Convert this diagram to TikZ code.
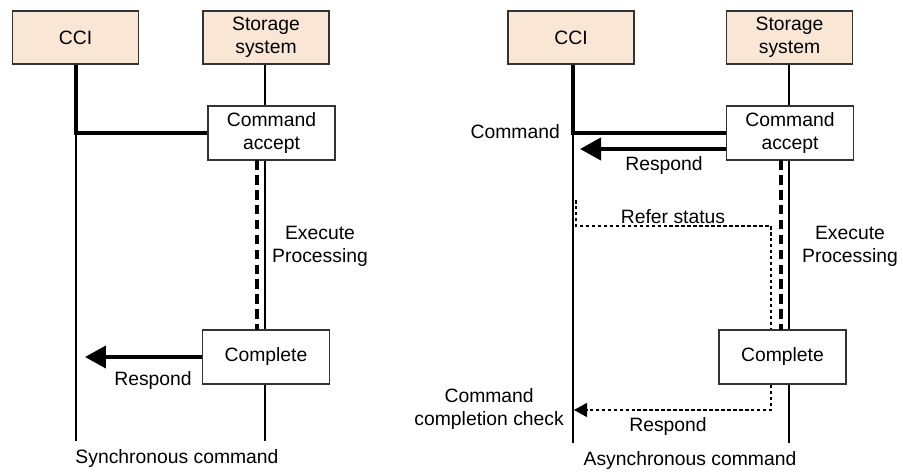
\documentclass[tikz,border=0pt]{standalone}
\usepackage{fontspec}
\setmainfont{Liberation Sans}
\usetikzlibrary{arrows.meta}
\definecolor{peach}{HTML}{FAE6D4}
\definecolor{boxline}{HTML}{333333}
\begin{document}
\begin{tikzpicture}[x=0.02cm, y=-0.02cm,
  font=\fontsize{11pt}{13pt}\selectfont,
  actor/.style={draw=boxline, line width=0.8pt, fill=peach, minimum width=2.52cm, minimum height=1.06cm, align=center, inner sep=1pt},
  stepbox/.style={draw=boxline, line width=0.8pt, fill=white, minimum width=2.54cm, minimum height=1.08cm, align=center, inner sep=1pt},
  lifeline/.style={line width=0.8pt},
  thickline/.style={line width=2.3pt},
  execline/.style={line width=2.6pt, dash pattern=on 5.5pt off 3pt},
  checkline/.style={line width=0.6pt, dash pattern=on 2pt off 1.4pt}]
  \useasboundingbox (0,0) rectangle (903,472);

  % synchronous
  \coordinate (cciend1) at (76,441);
  \coordinate (stoend1) at (265,441);
  \draw[lifeline] (76,64) -- (cciend1);
  \draw[lifeline] (265,64) -- (stoend1);
  \node[actor] (cci1) at (75.5,37.5) {CCI};
  \node[actor] (sto1) at (266,37.5) {Storage\\system};
  \node[stepbox] (acc1) at (271.5,133) {Command\\accept};
  \node[stepbox] (cmp1) at (266,357) {Complete};
  \draw[thickline] (cci1.south -| cciend1) |- (acc1.west);
  \coordinate (exa1) at (257,160);
  \coordinate (exb1) at (257,330);
  \draw[execline] (exa1) -- (exb1);
  \node (exec1) at (320,246) [align=center] {Execute\\Processing};
  \coordinate (tip1) at (85,357);
  \draw[thickline, -{Triangle[length=0.42cm, width=0.44cm]}] (cmp1.west) -- (tip1);
  \node (resp1) at (153,381) {Respond};
  \node (cap1) at (177,459) {Synchronous command};

  % asynchronous
  \coordinate (cciend2) at (573,443);
  \coordinate (stoend2) at (789,443);
  \draw[lifeline] (573,64) -- (cciend2);
  \draw[lifeline] (789,64) -- (stoend2);
  \node[actor] (cci2) at (571,37.5) {CCI};
  \node[actor] (sto2) at (789.5,37.5) {Storage\\system};
  \node[stepbox] (acc2) at (790,133) {Command\\accept};
  \node[stepbox] (cmp2) at (782.5,357) {Complete};
  \draw[thickline] (cci2.south -| cciend2) |- (acc2.west);
  \node[anchor=east] (cmd2) at (566,132) {Command};
  \coordinate (tip2) at (580,149);
  \draw[thickline, -{Triangle[length=0.42cm, width=0.44cm]}] (acc2.west |- tip2) -- (tip2);
  \node (resp2) at (664,166) {Respond};
  \coordinate (exa2) at (781,160);
  \coordinate (exb2) at (781,330);
  \draw[execline] (exa2) -- (exb2);
  \node (exec2) at (850,246) [align=center] {Execute\\Processing};
  \coordinate (ref0) at (576,200);
  \coordinate (ref1) at (771,226);
  \draw[checkline] (ref0) |- (ref1) -- (ref1 |- cmp2.north);
  \node (refer) at (673,217) {Refer status};
  \coordinate (chk0) at (771,410);
  \coordinate (tip3) at (574,410);
  \draw[checkline, -{Triangle[length=0.26cm, width=0.28cm]}] (chk0 |- cmp2.south) -- (chk0) -- (tip3);
  \node (resp3) at (668,427) {Respond};
  \node[anchor=east] (check) at (570,409) [align=center] {Command\\completion check};
  \node (cap2) at (690,461) {Asynchronous command};
\end{tikzpicture}
\end{document}
